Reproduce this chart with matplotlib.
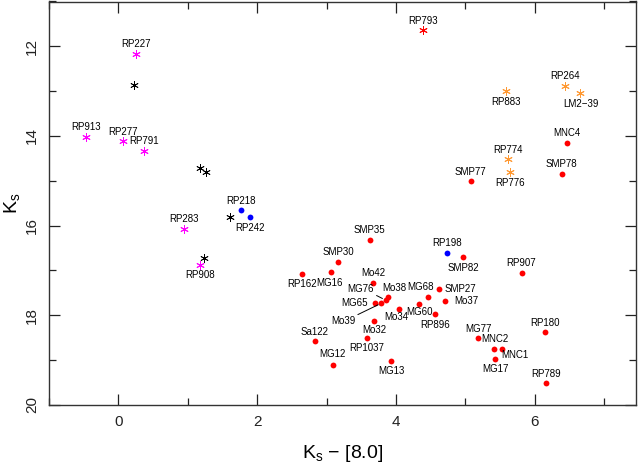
#!/usr/bin/env python3
# -*- coding: utf-8 -*-
"""
Colour-magnitude diagram, Ks against Ks - [8.0]
"""

import matplotlib
matplotlib.use('Agg')
import matplotlib.pyplot as plt

plt.rcParams['font.family'] = ['Liberation Sans', 'DejaVu Sans']
plt.rcParams['mathtext.default'] = 'regular'

# Data

# red dots
red_names = ['MNC4', 'SMP77', 'SMP78', 'SMP35', 'SMP82', 'RP907', 'SMP30',
             'MG16', 'RP162', 'Mo42', 'MG65', 'Mo39', 'MG76', 'Mo38', 'Mo34',
             'MG60', 'MG68', 'SMP27', 'Mo37', 'RP896', 'Mo32', 'RP1037',
             'Sa122', 'MG12', 'MG13', 'MG77', 'MNC2', 'MNC1', 'MG17',
             'RP180', 'RP789']
red_x = [6.47, 5.08, 6.39, 3.62, 4.97, 5.81, 3.17,
         3.06, 2.64, 3.67, 3.70, 3.79, 3.85, 3.88, 4.05,
         4.33, 4.46, 4.62, 4.71, 4.56, 3.69, 3.58,
         2.83, 3.09, 3.93, 5.19, 5.42, 5.53, 5.43,
         6.15, 6.16]
red_y = [14.15, 15.01, 14.84, 16.31, 16.70, 17.05, 16.80,
         17.04, 17.07, 17.27, 17.73, 17.73, 17.66, 17.59, 17.85,
         17.74, 17.58, 17.42, 17.68, 17.98, 18.13, 18.50,
         18.58, 19.11, 19.01, 18.51, 18.75, 18.74, 18.97,
         18.38, 19.52]

# blue dots
blue_names = ['RP218', 'RP242', 'RP198']
blue_x = [1.76, 1.89, 4.74]
blue_y = [15.66, 15.81, 16.60]

# magenta asterisks
mag_names = ['RP227', 'RP913', 'RP277', 'RP791', 'RP283', 'RP908']
mag_x = [0.26, -0.46, 0.07, 0.37, 0.95, 1.18]
mag_y = [12.17, 14.02, 14.12, 14.33, 16.07, 16.87]

# orange asterisks
orange_names = ['RP883', 'RP264', 'LM2\u221239', 'RP774', 'RP776']
orange_x = [5.58, 6.44, 6.66, 5.62, 5.65]
orange_y = [13.00, 12.88, 13.04, 14.52, 14.80]

# red asterisk
rast_names = ['RP793']
rast_x = [4.39]
rast_y = [11.64]

# black asterisks, no labels
black_x = [0.22, 1.17, 1.26, 1.61, 1.24]
black_y = [12.86, 14.72, 14.81, 15.81, 16.73]

# label offsets in pixels (dx right, dy down); default is just above
label_off = {
    'RP242': (0, 11), 'RP908': (0, 10.6), 'RP162': (0, 10.6),
    'RP883': (0, 11), 'LM2\u221239': (0, 11), 'RP776': (0, 11),
    'SMP82': (0, 10.7), 'MG16': (-1, 10.7), 'Mo38': (6.7, -9.3),
    'MG65': (-20.7, 0), 'Mo34': (-3, 8.6), 'MG60': (0.3, 8),
    'MG68': (-7, -9.6), 'SMP27': (21.3, -0.3), 'Mo37': (21, -0.3),
    'RP896': (0, 10.7), 'Mo32': (0, 8.4), 'RP1037': (0, 10.6),
    'MG12': (-0.7, -11), 'MG13': (0, 10.6), 'MNC1': (12.7, 6.7),
    'MG17': (0.4, 10.3),
}
# labels joined to their point by a short line
leader_off = {'Mo39': (-38.4, 17.7, (1, 1)), 'MG76': (-25, -11, (1, 0))}


def put_labels(ax, names, xs, ys):
    for n, x, y in zip(names, xs, ys):
        if n in leader_off:
            dx, dy, rp = leader_off[n]
            ax.annotate(n, (x, y), xytext=(dx, -dy), textcoords='offset pixels',
                        ha='center', va='center', fontsize=7,
                        arrowprops=dict(arrowstyle='-', lw=0.7, color='black',
                                        shrinkA=0, shrinkB=2.5, relpos=rp))
            continue
        dx, dy = label_off.get(n, (0, -9.5))
        ax.annotate(n, (x, y), xytext=(dx, -dy), textcoords='offset pixels',
                    ha='center', va='center', fontsize=7)


fig = plt.figure(figsize=(6.4, 4.66), dpi=100)
ax = fig.add_axes([49 / 640, 61 / 466, 587 / 640, 403.5 / 466])

ast = (6, 2, 0)
ax.plot(red_x, red_y, 'o', color='#ff0000', ms=4.2, mec='none')
ax.plot(blue_x, blue_y, 'o', color='#0000ff', ms=4.2, mec='none')
ax.plot(mag_x, mag_y, ls='none', marker=ast, color='#ff00ff', ms=6, mew=0.7)
ax.plot(orange_x, orange_y, ls='none', marker=ast, color='#ff9933', ms=6, mew=0.7)
ax.plot(rast_x, rast_y, ls='none', marker=ast, color='#ff0000', ms=6, mew=0.7)
ax.plot(black_x, black_y, ls='none', marker=ast, color='black', ms=6, mew=0.6)

put_labels(ax, red_names, red_x, red_y)
put_labels(ax, blue_names, blue_x, blue_y)
put_labels(ax, mag_names, mag_x, mag_y)
put_labels(ax, orange_names, orange_x, orange_y)
put_labels(ax, rast_names, rast_x, rast_y)

ax.set_xlim(-1.0, 7.46)
ax.set_ylim(20, 11)
ax.set_xticks([0, 2, 4, 6])
ax.set_xticks([-1, 1, 3, 5, 7], minor=True)
ax.set_yticks([12, 14, 16, 18, 20])
ax.set_yticks([11, 13, 15, 17, 19], minor=True)

ax.tick_params(which='both', direction='in', top=True, right=True,
               colors='#222222', width=0.9, labelsize=11)
ax.tick_params(which='major', length=8, pad=7)
ax.tick_params(which='minor', length=5)
plt.setp(ax.get_yticklabels(), rotation=90, va='center')
for s in ax.spines.values():
    s.set_linewidth(1.0)
    s.set_color('#333333')

ax.set_xlabel(r'K$_s$ $-$ [8.0]', fontsize=14)
ax.set_ylabel(r'K$_s$', fontsize=14)
ax.xaxis.set_label_coords(0.5, -0.119)
ax.xaxis.label.set_va('center')
ax.yaxis.set_label_coords(-0.063, 0.5)
ax.yaxis.label.set_va('center')

fig.savefig('out.png', dpi=100)
